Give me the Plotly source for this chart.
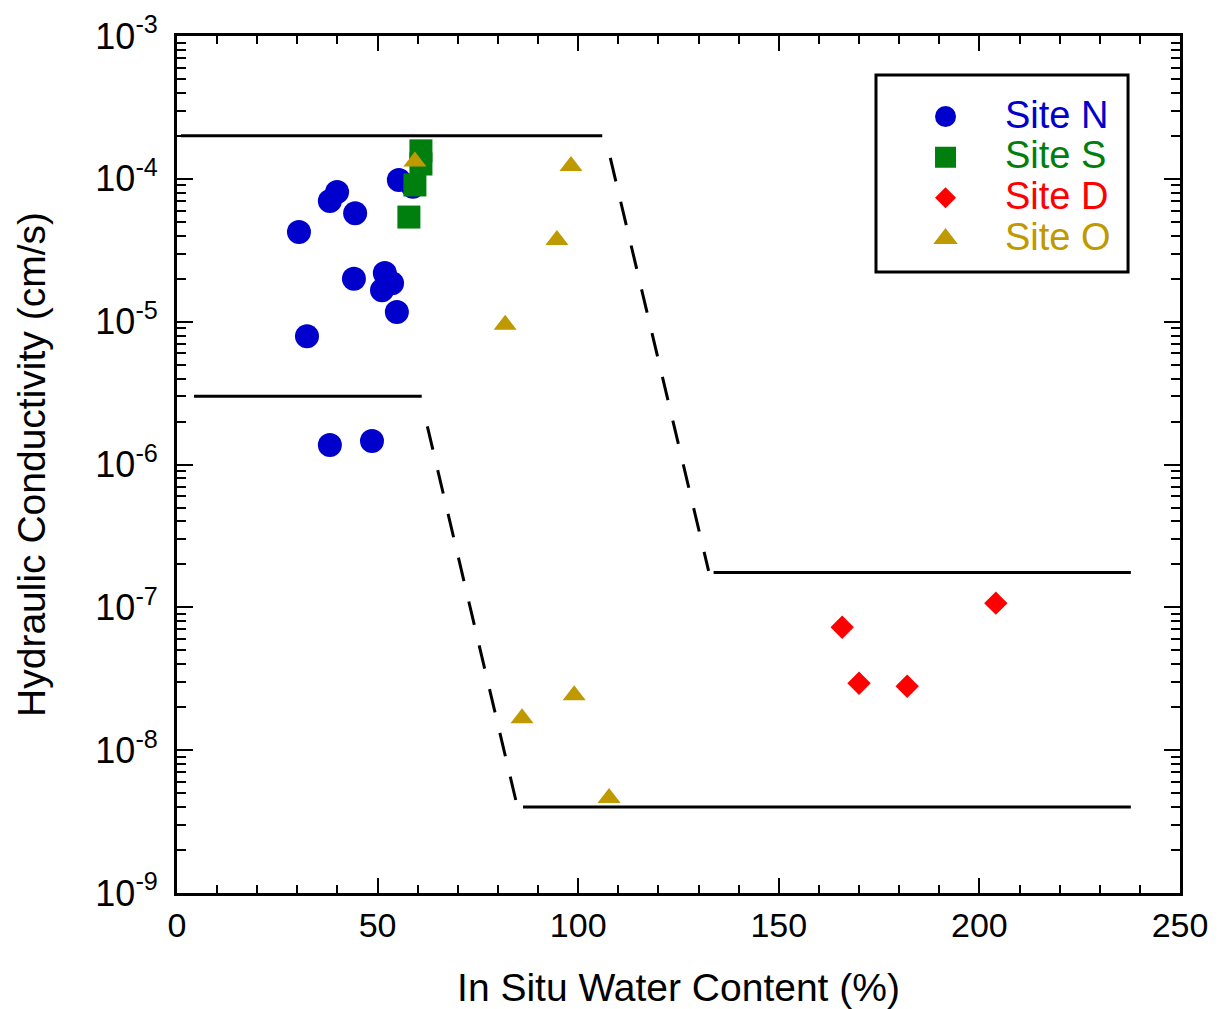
import plotly.graph_objects as go

# ---- data ----
site_n_x = [30.4, 32.4, 38.1, 39.9, 38.1, 48.6, 44.4, 44.1, 51.8, 51.1, 53.6, 54.8, 55.3, 58.8]
site_n_k = [4.24e-5, 7.9e-6, 7.0e-5, 8.1e-5, 1.37e-6, 1.46e-6, 5.75e-5, 2.0e-5, 2.19e-5, 1.66e-5, 1.86e-5, 1.17e-5, 9.8e-5, 8.8e-5]

site_s_x = [60.8, 60.8, 59.3, 57.8]
site_s_k = [1.57e-4, 1.27e-4, 9.06e-5, 5.4e-5]

site_d_x = [165.8, 170.0, 182.0, 204.1]
site_d_k = [7.26e-8, 2.94e-8, 2.8e-8, 1.07e-7]

site_o_x = [59.3, 98.2, 94.7, 81.8, 86.0, 99.0, 107.7]
site_o_k = [1.32e-4, 1.23e-4, 3.73e-5, 9.5e-6, 1.67e-8, 2.42e-8, 4.63e-9]

# boundary lines
upper_left_x = [1, 106]
upper_left_k = [2e-4, 2e-4]
upper_dash_x = [108, 132.5]
upper_dash_k = [1.4e-4, 1.8e-7]
upper_right_x = [133.75, 237.75]
upper_right_k = [1.75e-7, 1.75e-7]

lower_left_x = [4.25, 61]
lower_left_k = [3e-6, 3e-6]
lower_dash_x = [62.4, 84.5]
lower_dash_k = [1.85e-6, 4.4e-9]
lower_right_x = [86.25, 237.75]
lower_right_k = [4e-9, 4e-9]

series_names = ["Site N", "Site S", "Site D", "Site O"]
x_ticks = [0, 50, 100, 150, 200, 250]
y_exps = [-9, -8, -7, -6, -5, -4, -3]

FONT = "Liberation Sans, Arial, sans-serif"
BLUE = "#0000CC"
GREEN = "#007F0E"
RED = "#FF0000"
GOLD = "#BF9900"

fig = go.Figure()

DASH = "24px,21px"
for xs, ks, dash in [
    (upper_left_x, upper_left_k, "solid"),
    (upper_dash_x, upper_dash_k, DASH),
    (upper_right_x, upper_right_k, "solid"),
    (lower_left_x, lower_left_k, "solid"),
    (lower_dash_x, lower_dash_k, DASH),
    (lower_right_x, lower_right_k, "solid"),
]:
    fig.add_trace(go.Scatter(x=xs, y=ks, mode="lines", showlegend=False,
                             line=dict(color="black", width=3, dash=dash),
                             hoverinfo="skip"))

def leg(name, color):
    return f'<span style="font-size:38px;color:{color}">{name}</span>'

series = [
    (series_names[0], site_n_x, site_n_k, "circle", 24, BLUE, dict(size=16, lw=5)),
    (series_names[1], site_s_x, site_s_k, "square", 23, GREEN, dict(size=16, lw=5)),
    (series_names[2], site_d_x, site_d_k, "diamond", 18, RED, dict(size=14, lw=2)),
    (series_names[3], site_o_x, site_o_k, "triangle-up", 20, GOLD, dict(size=16, lw=3)),
]

for name, xs, ks, sym, size, color, lg in series:
    # data markers
    fig.add_trace(go.Scatter(x=xs, y=ks, mode="markers", name=name, showlegend=False,
                             legendgroup=name,
                             marker=dict(symbol=sym, size=size, color=color, line=dict(width=0))))
    # legend swatch (no data)
    fig.add_trace(go.Scatter(x=[None], y=[None], mode="markers", name=leg(name, color),
                             legendgroup=name, showlegend=True,
                             marker=dict(symbol=sym, size=lg["size"], color=color,
                                         line=dict(width=lg["lw"], color=color))))

# legend frame
fig.add_shape(type="rect", xref="paper", yref="paper",
              x0=0.6969, x1=0.9482, y0=0.7246, y1=0.9545,
              line=dict(color="black", width=3), fillcolor="rgba(0,0,0,0)")

fig.update_layout(
    width=1221, height=1001,
    margin=dict(l=169, r=49, t=28, b=116, autoexpand=False),
    plot_bgcolor="white", paper_bgcolor="white",
    font=dict(family=FONT, color="black"),
    showlegend=True,
    legend=dict(x=0.7069, y=0.9357, xanchor="left", yanchor="top",
                bgcolor="rgba(0,0,0,0)", borderwidth=0,
                font=dict(size=29, family=FONT), itemwidth=109,
                tracegroupgap=0),
    xaxis=dict(range=[0, 250], tickvals=x_ticks, ticktext=[str(v) for v in x_ticks],
               automargin=False,
               ticks="inside", ticklen=15, tickwidth=2, tickcolor="black",
               minor=dict(dtick=10, ticks="inside", ticklen=8, tickwidth=2, tickcolor="black"),
               showline=True, linewidth=3, linecolor="black", mirror="allticks",
               showgrid=False, zeroline=False,
               tickfont=dict(size=34, family=FONT),
               title=dict(text="In Situ Water Content (%)", font=dict(size=39, family=FONT), standoff=32)),
    yaxis=dict(type="log", range=[-9, -3],
               automargin=False,
               tickvals=[10.0 ** e for e in y_exps],
               ticktext=[f"10<sup>{e}</sup>" for e in y_exps],
               ticks="inside", ticklen=16, tickwidth=2, tickcolor="black",
               ticklabelstandoff=9,
               minor=dict(dtick="D1", ticks="inside", ticklen=9, tickwidth=2, tickcolor="black"),
               showline=True, linewidth=3, linecolor="black", mirror="allticks",
               showgrid=False, zeroline=False,
               tickfont=dict(size=36, family=FONT),
               title=dict(text="Hydraulic Conductivity (cm/s)", font=dict(size=39, family=FONT), standoff=38)),
)

fig.write_html("out.html")
